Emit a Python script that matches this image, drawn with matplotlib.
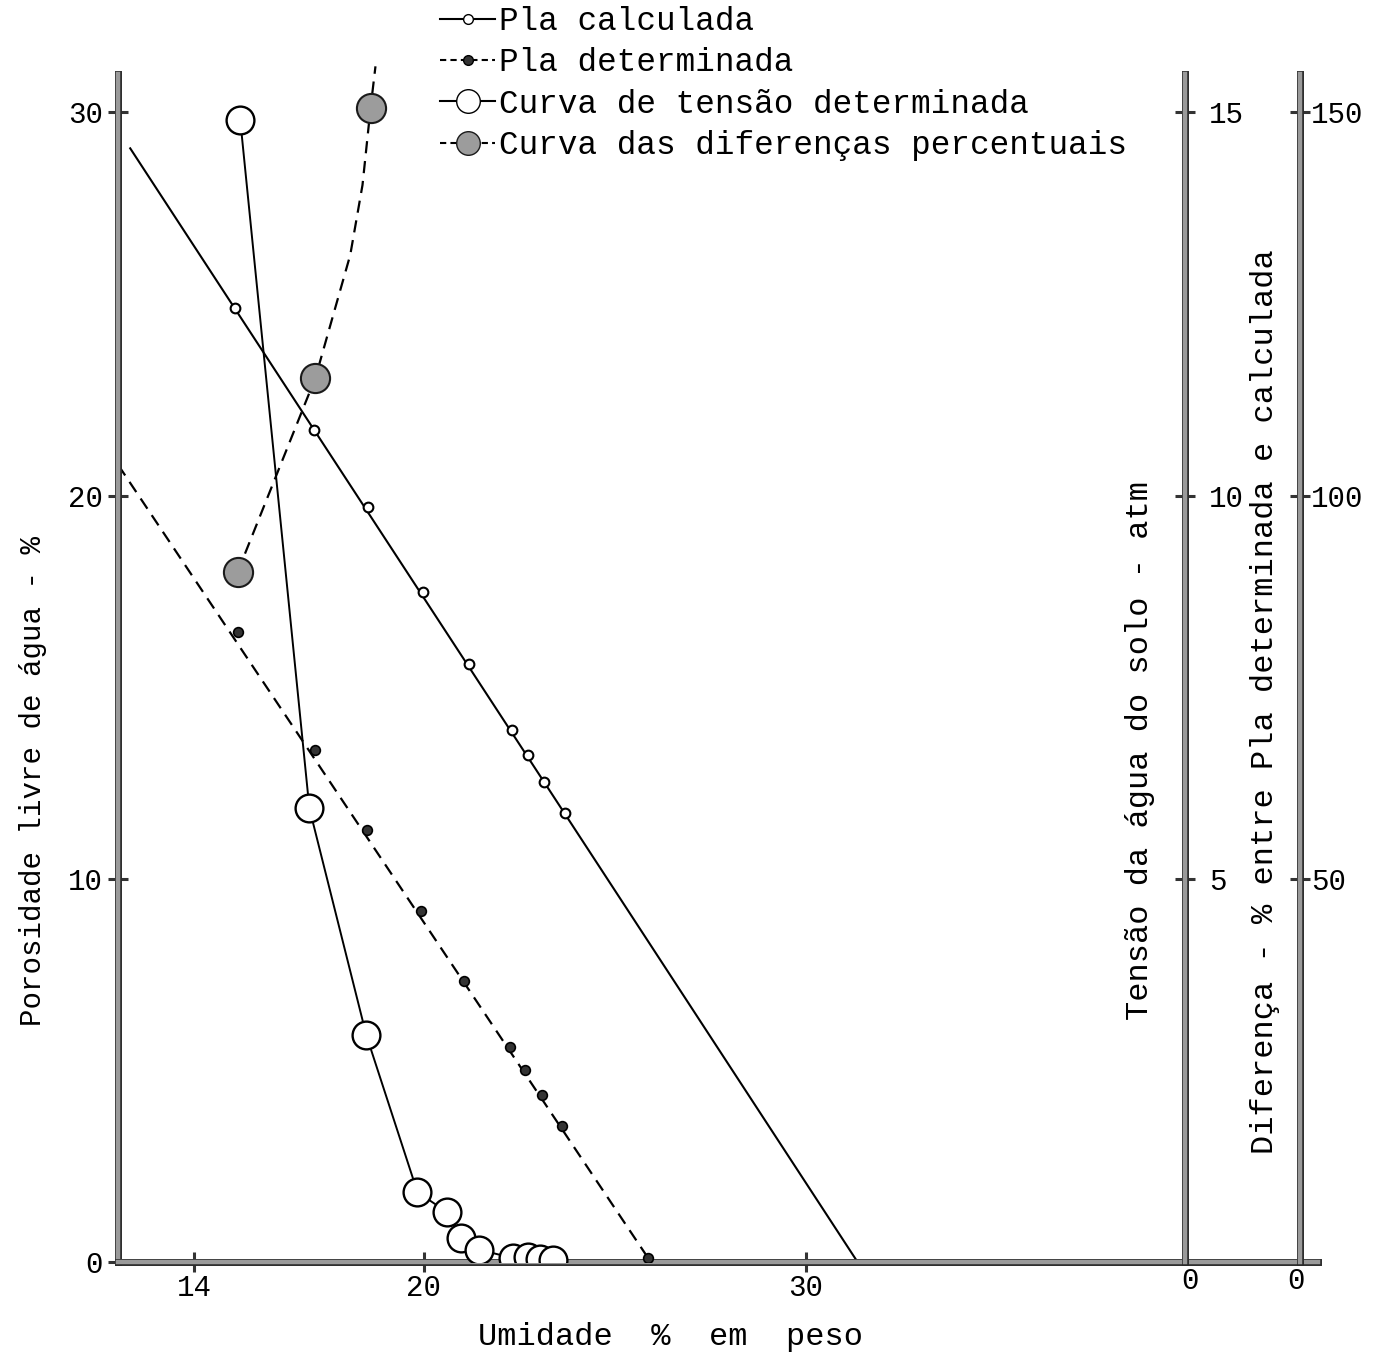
import matplotlib
matplotlib.use("Agg")
import matplotlib.pyplot as plt
import matplotlib.patheffects as pe
from matplotlib.lines import Line2D

# Umidade % em peso (x) e Pla % (eixo esquerdo)
pla_calc_x = [15.07, 17.14, 18.55, 19.99, 21.20, 22.32, 22.74, 23.14, 23.71]
pla_calc_y = [24.89, 21.71, 19.70, 17.48, 15.60, 13.88, 13.23, 12.52, 11.71]
pla_calc_line_x = [12.32, 31.36]
pla_calc_line_y = [29.06, 0.0]

pla_det_x = [15.13, 17.17, 18.53, 19.92, 21.07, 22.27, 22.66, 23.11, 23.63, 25.88]
pla_det_y = [16.44, 13.36, 11.27, 9.16, 7.33, 5.61, 5.01, 4.36, 3.55, 0.10]
pla_det_line_x = [12.01, 25.88]
pla_det_line_y = [20.79, 0.10]

# Curva de tensao (atm, eixo da direita 0-15)
tensao_x = [15.20, 17.01, 18.50, 19.84, 20.62, 20.99, 21.46, 22.35, 22.72, 23.06, 23.40]
tensao_atm = [14.9, 5.92, 2.96, 0.91, 0.65, 0.31, 0.16, 0.05, 0.06, 0.04, 0.03]

# Diferencas percentuais (eixo 0-150)
dif_x = [15.13, 17.17, 18.61]
dif_pct = [90.0, 115.4, 150.5]
dif_line_x = [15.13, 17.17, 18.08, 18.40, 18.61, 18.74]
dif_line_y = [90.0, 115.4, 131.4, 140.5, 150.5, 156.0]

x_ticks = [14, 20, 30]
y_ticks = [0, 10, 20, 30]
tensao_ticks = [5, 10, 15]
dif_ticks = [50, 100, 150]

FONT = "Liberation Mono"
W, H = 1387, 1356


def fx(px):
    return px / W


def fy(py):
    return 1 - py / H


def style_spine(sp):
    sp.set_linewidth(3.2)
    sp.set_color("#9a9a9a")
    sp.set_path_effects([pe.Stroke(linewidth=5.0, foreground="#2a2a2a"), pe.Normal()])


def plot_curves():
    fig = plt.figure(figsize=(W / 100, H / 100), dpi=100)
    ax = fig.add_axes([fx(118), fy(1262), fx(1317.5) - fx(118), fy(74) - fy(1262)])
    ax.set_xlim(12, 43.4)
    ax.set_ylim(0, 31)

    # 1. Pla calculada / determinada
    ax.plot(pla_calc_line_x, pla_calc_line_y, color="black", lw=1.5, zorder=2)
    ax.plot(pla_calc_x, pla_calc_y, ls="none", marker="o", ms=7, mfc="white",
            mec="black", mew=1.5, zorder=3)
    ax.plot(pla_det_line_x, pla_det_line_y, color="black", lw=1.6, dashes=(5.5, 3.5), zorder=2)
    ax.plot(pla_det_x, pla_det_y, ls="none", marker="o", ms=7, mfc="#333333",
            mec="black", mew=1.2, zorder=3)

    # 2. Eixo da tensao
    ax2 = ax.twinx()
    ax2.set_ylim(0, 15.5)
    ax2.plot(tensao_x, tensao_atm, color="black", lw=1.4, marker="o", ms=20,
             mfc="white", mec="black", mew=1.7, zorder=4)

    # 3. Eixo das diferencas
    ax3 = ax.twinx()
    ax3.set_ylim(0, 155)
    ax3.plot(dif_line_x, dif_line_y, color="black", lw=1.6, dashes=(5.5, 3.5),
             clip_on=False, zorder=3)
    ax3.plot(dif_x, dif_pct, ls="none", marker="o", ms=21, mfc="#9c9c9c",
             mec="#1a1a1a", mew=1.5, zorder=4)

    # 4. Espinhas e marcas
    for s in ["top", "right"]:
        ax.spines[s].set_visible(False)
    style_spine(ax.spines["left"])
    style_spine(ax.spines["bottom"])
    for a, xpos in [(ax2, 39.94), (ax3, 42.93)]:
        for s in ["top", "left", "bottom"]:
            a.spines[s].set_visible(False)
        a.spines["right"].set_position(("data", xpos))
        style_spine(a.spines["right"])

    tick_kw = dict(direction="inout", length=14, width=2.2, color="#333333",
                   labelsize=21)
    ax.set_xticks(x_ticks)
    ax.set_yticks(y_ticks)
    ax.tick_params(axis="both", **tick_kw)
    ax.tick_params(axis="x", pad=2)
    ax.tick_params(axis="y", pad=4)
    ax2.set_yticks(tensao_ticks)
    ax2.tick_params(axis="y", pad=10, **tick_kw)
    ax3.set_yticks(dif_ticks)
    ax3.tick_params(axis="y", pad=1, **tick_kw)
    for a in (ax, ax2, ax3):
        for lab in a.get_xticklabels() + a.get_yticklabels():
            lab.set_fontfamily(FONT)

    fig.text(fx(1190), fy(1281), "0", fontsize=21, family=FONT, ha="center", va="center")
    fig.text(fx(1296), fy(1281), "0", fontsize=21, family=FONT, ha="center", va="center")

    # 5. Rotulos dos eixos
    fig.text(fx(671), fy(1337), "Umidade  %  em  peso", fontsize=23, family=FONT,
             ha="center", va="center")
    fig.text(fx(33), fy(781), "Porosidade livre de água - %", fontsize=21, family=FONT,
             rotation=90, ha="center", va="center")
    fig.text(fx(1140), fy(750), "Tensão da água do solo - atm", fontsize=23, family=FONT,
             rotation=90, ha="center", va="center")
    fig.text(fx(1265), fy(702), "Diferença - % entre Pla determinada e calculada",
             fontsize=23, family=FONT, rotation=90, ha="center", va="center")

    # 6. Legenda no topo
    handles = [
        Line2D([], [], color="black", lw=1.5, marker="o", ms=7, mfc="white", mec="black"),
        Line2D([], [], color="black", lw=1.5, dashes=(3, 2), marker="o", ms=7,
               mfc="#333333", mec="black"),
        Line2D([], [], color="black", lw=1.5, marker="o", ms=17, mfc="white", mec="black"),
        Line2D([], [], color="black", lw=1.5, dashes=(3, 2), marker="o", ms=17,
               mfc="#9c9c9c", mec="#1a1a1a"),
    ]
    labels = ["Pla calculada", "Pla determinada", "Curva de tensão determinada",
              "Curva das diferenças percentuais"]
    fig.legend(handles, labels, loc="upper left", bbox_to_anchor=(fx(440), fy(6)),
               frameon=False, borderpad=0, borderaxespad=0, handlelength=1.7,
               handletextpad=0.1, labelspacing=0.32, prop={"family": FONT, "size": 23.5})

    fig.savefig("out.png", dpi=100)


if __name__ == "__main__":
    plot_curves()
